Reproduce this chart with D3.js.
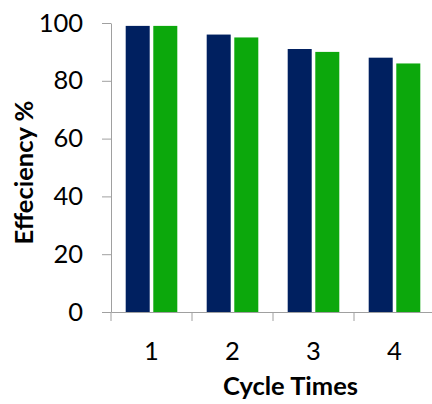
<!DOCTYPE html>
<html>
<head>
<meta charset="utf-8">
<script src="https://cdn.jsdelivr.net/npm/d3@7"></script>
<style>
  html, body { margin: 0; padding: 0; background: #fff; }
  svg { display: block; }
  text { font-family: Lato, "Open Sans", sans-serif; fill: #000; }
</style>
</head>
<body>
<svg id="chart" width="432" height="404"></svg>
<script>
// Cycle number on the x axis
const cycles = ["1", "2", "3", "4"];
// Two series of efficiency values (%) per cycle
const seriesNames = ["Series A", "Series B"];
const seriesA = [99, 96, 91, 88];
const seriesB = [99, 95, 90, 86];
const yTicks = [0, 20, 40, 60, 80, 100];
const colors = ["#002060", "#0ca80c"];

const svg = d3.select("#chart");
const plotLeft = 111, plotTop = 23, plotBottom = 312, plotRight = 435;

const x = d3.scaleBand().domain(cycles).range([plotLeft, plotRight]).padding(0);
const xInner = d3.scaleBand().domain(seriesNames)
  .range([14.7, x.bandwidth() - 14.7]).paddingInner(0.13);
const y = d3.scaleLinear().domain([0, 100]).range([plotBottom, plotTop]);

const axisColor = "#a0a0a0";

// y axis
const yAxis = svg.append("g")
  .attr("transform", `translate(${plotLeft},0)`)
  .call(d3.axisLeft(y).tickValues(yTicks).tickSize(9).tickSizeOuter(0).tickPadding(19));
yAxis.select(".domain").attr("stroke", axisColor);
yAxis.selectAll(".tick line").attr("stroke", axisColor);
yAxis.selectAll(".tick text").attr("font-size", 25.5).attr("font-family", "Lato");

// x axis line and category boundary ticks
const xAxis = svg.append("g")
  .attr("transform", `translate(0,${plotBottom})`)
  .call(d3.axisBottom(x).tickSize(0).tickSizeOuter(0).tickPadding(30));
xAxis.select(".domain").attr("stroke", axisColor);
xAxis.selectAll(".tick text").attr("font-size", 25.5).attr("font-family", "Lato");

const boundaries = cycles.map(c => x(c)).concat([x(cycles[cycles.length - 1]) + x.bandwidth()]);
xAxis.selectAll(".bound").data(boundaries).join("line")
  .attr("class", "bound")
  .attr("x1", d => d).attr("x2", d => d)
  .attr("y1", 0).attr("y2", 9)
  .attr("stroke", axisColor);

// bars
const rows = cycles.map((c, i) => ({ cycle: c, values: [seriesA[i], seriesB[i]] }));
const groups = svg.append("g").selectAll("g").data(rows).join("g")
  .attr("transform", d => `translate(${x(d.cycle)},0)`);
groups.selectAll("rect")
  .data(d => d.values.map((v, j) => ({ name: seriesNames[j], value: v, j })))
  .join("rect")
  .attr("x", d => xInner(d.name))
  .attr("width", xInner.bandwidth())
  .attr("y", d => y(d.value))
  .attr("height", d => y(0) - y(d.value))
  .attr("fill", d => colors[d.j]);

// axis titles
svg.append("text")
  .attr("x", 290.5).attr("y", 395)
  .attr("text-anchor", "middle")
  .attr("font-size", 25.5).attr("font-weight", "bold")
  .text("Cycle Times");

svg.append("text")
  .attr("transform", "translate(33,172.5) rotate(-90)")
  .attr("text-anchor", "middle")
  .attr("font-size", 25.5).attr("font-weight", "bold")
  .text("Effeciency %");
</script>
</body>
</html>
